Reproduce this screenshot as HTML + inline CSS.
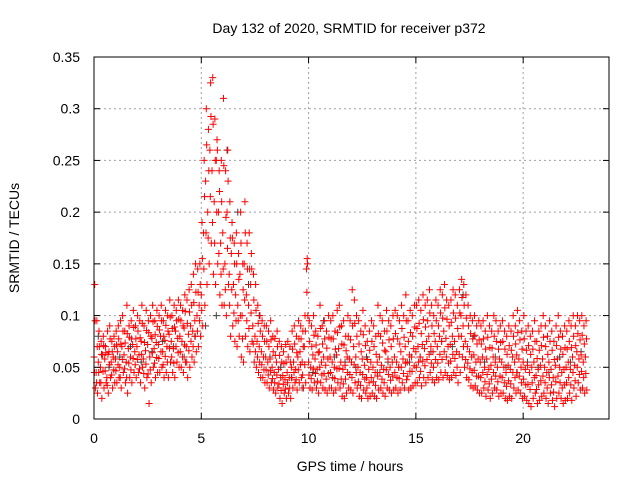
<!DOCTYPE html>
<html><head><meta charset="utf-8"><style>
body{margin:0;background:#fff}
svg text{font-family:"Liberation Sans",sans-serif;font-size:14px;fill:#000}
</style></head><body>
<svg id="c" width="640" height="480" viewBox="0 0 640 480" xmlns="http://www.w3.org/2000/svg">
<rect width="640" height="480" fill="#fff"/>
<g id="grid"></g><g id="gray"></g><g id="red"></g><g id="axes"></g>
</svg>
<script>
const xTicks=[0,5,10,15,20];
const yTicks=[0,0.05,0.1,0.15,0.2,0.25,0.3,0.35];
const yTickLabels=["0","0.05","0.1","0.15","0.2","0.25","0.3","0.35"];
const tStep=0.1;
const redMid=[60,45,55,50,62,58,40,65,55,60,58,65,50,70,62,55,68,60,72,65,70,62,75,58,66,72,60,78,68,74,72,80,65,76,70,82,75,68,85,78,80,75,88,70,82,90,85,95,100,110,120,180,230,200,260,240,210,250,200,170,180,150,200,140,160,130,120,110,140,100,150,120,110,130,90,80,75,70,65,60,60,55,58,50,45,55,48,40,42,38,45,40,50,55,48,60,65,55,70,145,55,50,62,58,48,65,55,60,52,58,60,55,50,62,68,55,48,52,60,58,55,70,60,50,45,58,52,40,48,55,50,45,55,60,52,48,65,58,50,55,60,55,50,65,58,70,55,62,60,68,65,70,60,72,68,75,80,70,65,75,70,80,75,85,78,70,72,80,75,65,80,100,90,75,70,65,60,62,55,58,55,60,50,58,48,52,60,55,50,58,55,50,45,52,48,60,55,62,58,50,55,48,52,45,50,55,42,48,52,58,50,45,55,48,40,52,58,50,45,48,50,55,48,60,52,65,58,62,55,60];
const redHigh=[130,95,85,75,80,70,85,90,75,80,85,90,95,100,85,110,90,95,105,90,100,95,110,90,105,95,100,110,95,105,100,110,95,105,100,115,100,110,105,115,110,105,120,115,125,130,140,150,145,150,190,250,300,280,325,330,290,270,240,250,310,240,260,210,190,170,180,160,200,150,210,170,180,160,140,130,110,100,95,90,90,85,95,80,78,85,75,70,65,72,75,70,85,90,80,95,90,85,100,155,95,90,100,85,80,110,90,95,85,100,95,100,85,105,110,90,95,80,100,95,125,115,100,95,85,105,90,75,85,95,90,80,110,100,95,85,105,95,90,100,105,100,95,110,100,120,95,105,100,110,110,115,105,120,110,115,125,110,100,115,110,125,120,130,115,110,115,125,120,110,125,135,130,120,110,100,95,100,90,95,90,95,85,100,90,85,100,95,85,90,95,85,80,90,85,100,90,105,95,85,100,85,90,80,85,95,75,85,90,100,90,80,95,85,75,90,100,85,80,90,85,95,90,100,90,100,95,100,90,95];
const redLow=[30,25,35,20,30,35,25,40,30,35,35,40,30,45,35,25,40,35,45,40,45,35,50,30,40,15,35,50,40,45,45,50,40,45,40,55,45,40,55,50,50,45,55,40,50,60,55,65,70,80,90,110,130,150,170,140,130,150,120,110,110,100,130,80,90,75,70,80,60,55,80,70,65,75,55,50,45,40,40,35,35,30,35,28,25,30,20,15,25,20,25,20,30,35,28,35,40,30,35,100,30,28,35,30,25,35,30,28,25,30,30,25,28,35,30,22,20,25,30,28,25,35,30,22,20,28,25,20,22,25,22,20,28,30,25,22,30,28,25,28,30,25,28,35,30,38,28,30,32,35,35,40,32,40,35,40,45,38,35,40,38,45,40,45,42,38,40,45,42,35,45,60,50,40,38,32,30,32,28,25,25,30,22,28,20,25,30,28,22,25,25,20,18,22,20,30,25,28,25,20,22,18,15,12,20,25,15,18,22,25,20,15,25,18,12,20,25,20,15,18,20,25,18,30,22,35,28,30,25,28];
const grayStep=0.5;
const grayVals=[80,50,60,70,55,65,75,70,60,80,90,100,260,200,130,100,60,50,40,30,45,95,60,55,50,60,45,55,50,55,60,65,75,70,120,80,55,60,50,45,55,50,45,60,55,65];
const X0=94,X1=609,Y0=419,Y1=57;
const sx=t=>X0+(X1-X0)*t/24, sy=v=>Y0-(Y0-Y1)*v/0.35;
const NS="http://www.w3.org/2000/svg";
function mk(tag,at,par){const e=document.createElementNS(NS,tag);for(const k in at)e.setAttribute(k,at[k]);par.appendChild(e);return e;}
const grid=document.getElementById('grid'),axes=document.getElementById('axes');
xTicks.forEach(t=>{const x=sx(t);
 if(t>0){const g=mk('line',{x1:x,x2:x,y1:Y1,y2:Y0,stroke:'#a0a0a0','stroke-dasharray':'2,3'},grid);}
 mk('line',{x1:x,x2:x,y1:Y0,y2:Y0-6,stroke:'#000'},axes);mk('line',{x1:x,x2:x,y1:Y1,y2:Y1+6,stroke:'#000'},axes);
 const tx=mk('text',{x:x,y:443,'text-anchor':'middle'},axes);tx.textContent=t;
 });
yTicks.forEach((v,i)=>{const y=sy(v);
 if(i>0&&i<yTicks.length-1){const g=mk('line',{x1:X0,x2:X1,y1:y,y2:y,stroke:'#a0a0a0','stroke-dasharray':'2,3'},grid);}
 mk('line',{x1:X0,x2:X0+6,y1:y,y2:y,stroke:'#000'},axes);mk('line',{x1:X1,x2:X1-6,y1:y,y2:y,stroke:'#000'},axes);
 const tx=mk('text',{x:80,y:y+5,'text-anchor':'end'},axes);tx.textContent=yTickLabels[i];
 });
const fr=mk('rect',{x:X0,y:Y1,width:X1-X0,height:Y0-Y1,fill:'none',stroke:'#000'},axes);

function cross(par,t,v,col){const x=sx(t),y=sy(v/1000);
 const p=mk('path',{d:`M${x-3.5} ${y}h7M${x} ${y-3.5}v7`,stroke:col,'stroke-width':1,fill:'none'},par);
 }
const gg=document.getElementById('gray'),rg=document.getElementById('red');
grayVals.forEach((v,i)=>cross(gg,i*grayStep+0.2,v,'#404040'));
redMid.forEach((v,i)=>cross(rg,i*tStep,v,'#ff0000'));
redHigh.forEach((v,i)=>cross(rg,i*tStep+0.033,v,'#ff0000'));
redLow.forEach((v,i)=>cross(rg,i*tStep+0.066,v,'#ff0000'));
redMid.forEach((v,i)=>cross(rg,i*tStep+0.05,(v+redHigh[i])/2,'#ff0000'));
redMid.forEach((v,i)=>cross(rg,i*tStep+0.02,(v+redLow[i])/2,'#ff0000'));
const t1=mk('text',{x:349,y:33,'text-anchor':'middle'},axes);t1.textContent='Day 132 of 2020, SRMTID for receiver p372';

const t2=mk('text',{x:350,y:471,'text-anchor':'middle'},axes);t2.textContent='GPS time / hours';

const t3=mk('text',{x:19,y:238,'text-anchor':'middle',transform:'rotate(-90 19 238)'},axes);t3.textContent='SRMTID / TECUs';

</script>
</body></html>
